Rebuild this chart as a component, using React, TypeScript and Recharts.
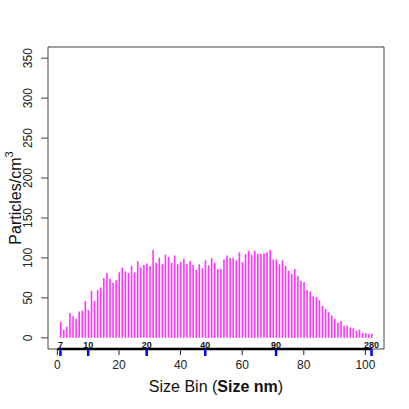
import { ComposedChart, Bar, XAxis, YAxis, ReferenceArea, ReferenceLine } from 'recharts';

// particle counts per size bin (bins 1..102)
const counts = [
  20, 10, 14, 31, 27, 24, 33, 34, 46, 35,
  59, 46, 60, 63, 75, 81, 74, 69, 72, 82,
  88, 83, 81, 90, 82, 96, 88, 91, 93, 90,
  110, 94, 100, 92, 104, 101, 94, 103, 92, 95,
  99, 92, 96, 91, 85, 92, 87, 97, 91, 100,
  94, 86, 86, 98, 103, 100, 100, 97, 107, 95,
  105, 109, 104, 109, 105, 105, 106, 107, 110, 98,
  98, 92, 97, 90, 84, 80, 86, 77, 71, 70,
  60, 58, 52, 51, 47, 40, 36, 32, 28, 24,
  19, 21, 15, 15, 13, 12, 9, 10, 6, 6,
  5, 5,
];
const bins = counts.map((_, i) => i + 1);

const xTicks = [0, 20, 40, 60, 80, 100];
const yTicks = [0, 50, 100, 150, 200, 250, 300, 350];
const sizeTickBins = [1, 10, 29, 48, 71, 102];
const sizeTickLabels = ['7', '10', '20', '40', '90', '280'];

const data = bins.map((b, i) => ({ bin: b, count: counts[i] }));

const FONT = 'Liberation Sans, Arial, Helvetica, sans-serif';
const X_DOMAIN: [number, number] = [-3.04, 106.04];
const Y_DOMAIN: [number, number] = [-14, 364];

const BinTick = (props: any) => {
  const { x, y, payload } = props;
  return (
    <g>
      <line x1={x} x2={x} y1={y} y2={y + 6} stroke="#222" strokeWidth={1} />
      <text x={x} y={y + 20} textAnchor="middle" fontSize={12} fontFamily={FONT} fill="#222">
        {payload.value}
      </text>
    </g>
  );
};

const SizeTick = (props: any) => {
  const { x, y, payload } = props;
  const idx = sizeTickBins.indexOf(payload.value);
  return (
    <g>
      <line x1={x} x2={x} y1={y - 1} y2={y + 6} stroke="#0000ff" strokeWidth={2.5} />
      <text x={x} y={y - 2} textAnchor="middle" fontSize={9} fontWeight="bold" fontFamily={FONT} fill="#111">
        {sizeTickLabels[idx]}
      </text>
    </g>
  );
};

const CountTick = (props: any) => {
  const { x, y, payload } = props;
  const lx = x - 20;
  return (
    <g>
      <line x1={x - 7} x2={x} y1={y} y2={y} stroke="#444" strokeWidth={1} />
      <text
        x={lx}
        y={y}
        textAnchor="middle"
        dominantBaseline="central"
        fontSize={12}
        fontFamily={FONT}
        fill="#222"
        transform={`rotate(-90, ${lx}, ${y})`}
      >
        {payload.value}
      </text>
    </g>
  );
};

const XTitle = (props: any) => {
  const vb = props.viewBox;
  const cx = vb.x + vb.width / 2;
  return (
    <text x={cx} y={349 + 43} textAnchor="middle" fontSize={16} fontFamily={FONT} fill="#111">
      Size Bin (<tspan fontWeight="bold">Size nm</tspan>)
    </text>
  );
};

const YTitle = (props: any) => {
  const vb = props.viewBox;
  const cy = vb.y + vb.height / 2;
  const cx = 15;
  return (
    <text
      x={cx}
      y={cy}
      textAnchor="middle"
      dominantBaseline="central"
      fontSize={16}
      fontFamily={FONT}
      fill="#111"
      transform={`rotate(-90, ${cx}, ${cy})`}
    >
      Particles/cm
      <tspan fontSize={11} dy={-6}>3</tspan>
    </text>
  );
};

export default function App() {
  return (
    <div style={{ position: 'absolute', left: 0, top: 0, width: 409, height: 409, background: '#fff' }}>
      <ComposedChart
        width={409}
        height={409}
        data={data}
        margin={{ top: 47, right: 25, bottom: 58, left: 47 }}
      >
        <XAxis
          xAxisId="main"
          dataKey="bin"
          type="number"
          domain={X_DOMAIN}
          allowDataOverflow
          ticks={xTicks}
          interval={0}
          height={1}
          axisLine={false}
          tickLine={false}
          tickSize={0}
          tickMargin={0}
          tick={<BinTick />}
          label={<XTitle />}
        />
        <XAxis
          xAxisId="size"
          dataKey="bin"
          type="number"
          domain={X_DOMAIN}
          allowDataOverflow
          ticks={sizeTickBins}
          interval={0}
          height={1}
          axisLine={false}
          tickLine={false}
          tickSize={0}
          tickMargin={0}
          tick={<SizeTick />}
        />
        <YAxis
          yAxisId="y"
          type="number"
          domain={Y_DOMAIN}
          allowDataOverflow
          ticks={yTicks}
          interval={0}
          width={1}
          axisLine={false}
          tickLine={false}
          tickSize={0}
          tickMargin={0}
          tick={<CountTick />}
          label={<YTitle />}
        />
        <ReferenceArea
          xAxisId="main"
          yAxisId="y"
          x1={X_DOMAIN[0]}
          x2={X_DOMAIN[1]}
          y1={Y_DOMAIN[0]}
          y2={Y_DOMAIN[1]}
          fill="none"
          stroke="#444"
          strokeWidth={1}
          ifOverflow="visible"
        />
        <Bar
          xAxisId="main"
          yAxisId="y"
          dataKey="count"
          fill="#ff33ff"
          barSize={1.6}
          isAnimationActive={false}
        />
        <ReferenceLine
          xAxisId="main"
          yAxisId="y"
          segment={[{ x: 0, y: Y_DOMAIN[0] }, { x: 102, y: Y_DOMAIN[0] }]}
          stroke="#000"
          strokeWidth={2.5}
          ifOverflow="visible"
        />
      </ComposedChart>
    </div>
  );
}
